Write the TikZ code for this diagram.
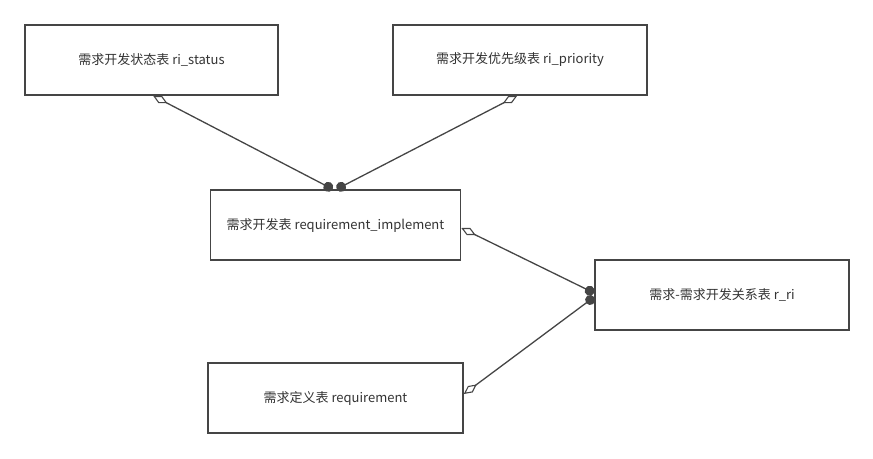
\documentclass[tikz,border=0pt]{standalone}
\usepackage{fontspec}
\setmainfont{Noto Sans CJK SC}
\usepackage{xcolor}
\usetikzlibrary{arrows.meta}
\definecolor{edgegray}{rgb}{0.27,0.27,0.27}
\definecolor{textgray}{rgb}{0.20,0.20,0.20}

\begin{document}
\begin{tikzpicture}[x=1pt, y=1pt,
  table/.style={draw=edgegray, line width=1.7pt, fill=white, minimum height=70pt, text=textgray, font=\fontsize{13}{15}\selectfont},
  rel/.style={draw=edgegray, line width=1.3pt, {Diamond[open, length=16pt, width=8pt, line width=1.1pt]}-{Circle[length=10pt]}}]
\useasboundingbox (0,0) rectangle (873,-458);
%		\draw[help lines] (0,0) grid (873,-458);
\node[table, minimum width=253pt] (status) at (151.5,-60) {需求开发状态表 ri\_status};
\node[table, minimum width=254pt] (priority) at (520,-60) {需求开发优先级表 ri\_priority};
\node[table, minimum width=250pt] (impl) at (335.5,-225) {需求开发表 requirement\_implement};
\node[table, minimum width=254pt] (rri) at (722,-295) {需求-需求开发关系表 r\_ri};
\node[table, minimum width=255pt] (req) at (335.5,-398) {需求定义表 requirement};
\draw[rel] ([xshift=129pt]status.south west) -- ([xshift=123pt]impl.north west);
\draw[rel] ([xshift=125pt]priority.south west) -- ([xshift=127pt]impl.north west);
\draw[rel] ([yshift=-3pt]impl.east) -- ([yshift=2pt]rri.west);
\draw[rel] ([yshift=4pt]req.east) -- ([yshift=-2pt]rri.west);
\end{tikzpicture}
\end{document}
